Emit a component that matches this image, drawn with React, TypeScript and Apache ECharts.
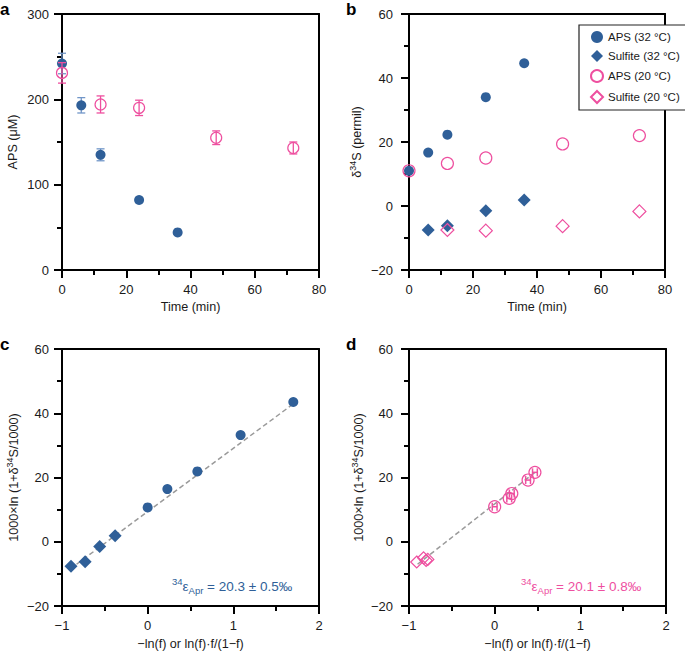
import React, { useEffect, useRef } from 'react';
import * as echarts from 'echarts';

const BLUE = '#2f5f98';
const BLUE_ERR = '#7196c8';
const PINK = '#ee4f9f';
const FONT = 'Liberation Sans';

// Panel a: APS concentration vs time
const timeApsHot = [0, 6, 12, 24, 36];
const apsHot = [242, 193, 135, 82, 44];
const apsHotErr = [12, 9, 7, 3, 2];
const timeApsCold = [0, 12, 24, 48, 72];
const apsCold = [231, 194, 190, 155, 143];
const apsColdErr = [12, 10, 9, 8, 7];

// Panel b: d34S vs time
const d34ApsHot = [11, 16.7, 22.3, 34, 44.6];
const timeSulHot = [6, 12, 24, 36];
const d34SulHot = [-7.5, -6.2, -1.5, 1.9];
const d34ApsCold = [11, 13.3, 15, 19.4, 22];
const timeSulCold = [12, 24, 48, 72];
const d34SulCold = [-7.5, -7.7, -6.3, -1.7];

// Panel c: 32 °C Rayleigh plot
const fApsHot = [0, 0.23, 0.58, 1.085, 1.7];
const lnApsHot = [10.7, 16.4, 21.9, 33.2, 43.5];
const fApsHotErr = [0.025, 0.025, 0.025, 0.025, 0.025];
const fSulHot = [-0.895, -0.73, -0.56, -0.38];
const lnSulHot = [-7.6, -6.2, -1.5, 1.9];
const fitHotX = [-0.83, 1.75];
const fitHotY = [-7.0, 43.9];

// Panel d: 20 °C Rayleigh plot
const fApsCold = [0, 0.17, 0.2, 0.39, 0.47];
const lnApsCold = [10.9, 13.5, 15, 19.2, 21.6];
const fApsColdErr = [0.028, 0.028, 0.028, 0.028, 0.028];
const fSulCold = [-0.91, -0.83, -0.8, -0.78];
const lnSulCold = [-6.3, -5.0, -5.8, -5.5];
const fitColdX = [-0.9, 0.47];
const fitColdY = [-7.0, 21.6];

const legendNames = ['APS (32 °C)', 'Sulfite (32 °C)', 'APS (20 °C)', 'Sulfite (20 °C)'];

const HOLLOW = 'rgba(255,255,255,0)';
const TEXT = '#1a1a1a';
const FS_TICK = 13;
const FS_NAME = 12.6;
const FS_NOTE = 13.5;

const fmt = (v: number) => (v < 0 ? '\u2212' + Math.abs(v) : String(v));

const richName = {
  n: { fontSize: FS_NAME, fontFamily: FONT, color: TEXT, fontWeight: 'normal' },
  sup: { fontSize: 9, fontFamily: FONT, color: TEXT, fontWeight: 'normal', padding: [0, 0, 8, 0] },
};

function axis(
  gridIndex: number,
  min: number,
  max: number,
  interval: number,
  name: string,
  nameGap: number,
  labelMargin: number
) {
  return {
    type: 'value',
    gridIndex,
    min,
    max,
    interval,
    name,
    nameLocation: 'middle',
    nameGap,
    nameTextStyle: { fontSize: FS_NAME, fontFamily: FONT, color: TEXT, fontWeight: 'normal', rich: richName },
    axisLine: { show: true, onZero: false, lineStyle: { color: '#000', width: 2 } },
    axisTick: { show: true, length: 8, lineStyle: { color: '#000', width: 2 } },
    minorTick: { show: true, splitNumber: 2, length: 5, lineStyle: { color: '#000', width: 2 } },
    splitLine: { show: false },
    minorSplitLine: { show: false },
    axisLabel: { fontSize: FS_TICK, fontFamily: FONT, color: TEXT, margin: labelMargin, formatter: fmt },
  };
}

// Frame edges (top / right) drawn as bare axis lines
function frame(gridIndex: number, min: number, max: number, position: string) {
  return {
    type: 'value',
    gridIndex,
    min,
    max,
    position,
    axisLine: { show: true, onZero: false, lineStyle: { color: '#000', width: 2 } },
    axisTick: { show: false },
    minorTick: { show: false },
    axisLabel: { show: false },
    splitLine: { show: false },
  };
}

const vErr = (color: string, cap: number, width: number) => (params: any, api: any) => {
  const x = api.value(0);
  const a = api.coord([x, api.value(2)]);
  const b = api.coord([x, api.value(3)]);
  const style = { stroke: color, lineWidth: width, fill: 'none' };
  return {
    type: 'group',
    children: [
      { type: 'line', shape: { x1: a[0], y1: a[1], x2: b[0], y2: b[1] }, style },
      { type: 'line', shape: { x1: a[0] - cap, y1: a[1], x2: a[0] + cap, y2: a[1] }, style },
      { type: 'line', shape: { x1: b[0] - cap, y1: b[1], x2: b[0] + cap, y2: b[1] }, style },
    ],
  };
};

const hErr = (color: string, cap: number, width: number) => (params: any, api: any) => {
  const y = api.value(1);
  const a = api.coord([api.value(2), y]);
  const b = api.coord([api.value(3), y]);
  const style = { stroke: color, lineWidth: width, fill: 'none' };
  return {
    type: 'group',
    children: [
      { type: 'line', shape: { x1: a[0], y1: a[1], x2: b[0], y2: b[1] }, style },
      { type: 'line', shape: { x1: a[0], y1: a[1] - cap, x2: a[0], y2: a[1] + cap }, style },
      { type: 'line', shape: { x1: b[0], y1: b[1] - cap, x2: b[0], y2: b[1] + cap }, style },
    ],
  };
};

const zip = (xs: number[], ys: number[]) => xs.map((x, i) => [x, ys[i]]);

function scatter(name: string, idx: number, data: number[][], symbol: string, size: number, filled: boolean, color: string, z = 3) {
  return {
    type: 'scatter',
    name,
    xAxisIndex: idx,
    yAxisIndex: idx,
    data,
    symbol,
    symbolSize: size,
    clip: false,
    z,
    itemStyle: filled
      ? { color, borderWidth: 0, opacity: 1 }
      : { color: HOLLOW, borderColor: color, borderWidth: 1.2, opacity: 1 },
    emphasis: { disabled: true },
  };
}

function annotation(x: number, y: number, value: string, color: string) {
  return {
    type: 'text',
    x,
    y,
    style: {
      text: '{sup|34}{t|\u03b5}{sub|Apr}{t| = ' + value + '}',
      fill: color,
      verticalAlign: 'middle',
      rich: {
        t: { fontSize: FS_NOTE, fontFamily: FONT, fill: color },
        sup: { fontSize: 9.5, fontFamily: FONT, fill: color, padding: [0, 0, 9, 0] },
        sub: { fontSize: 9.5, fontFamily: FONT, fill: color, padding: [8, 0, 0, 0] },
      },
    },
  };
}

function letter(x: number, y: number, t: string) {
  return {
    type: 'text',
    x,
    y,
    style: { text: t, fill: '#000', fontSize: 17, fontWeight: 'bold', fontFamily: FONT, verticalAlign: 'middle' },
  };
}

export default function App() {
  const ref = useRef<HTMLDivElement>(null);
  useEffect(() => {
    if (!ref.current) return;
    const chart = echarts.init(ref.current, undefined, { renderer: 'svg' });
    const yName = '{n|1000×ln (1+δ}{sup|34}{n|S/1000)}';
    const xName = '\u2212ln(f) or ln(f)·f/(1\u2212f)';
    const option: any = {
      animation: false,
      textStyle: { fontFamily: FONT },
      grid: [
        { left: 62, top: 14, width: 257, height: 256 },
        { left: 409, top: 14, width: 256, height: 256 },
        { left: 62, top: 349, width: 257, height: 257 },
        { left: 409, top: 349, width: 257, height: 257 },
      ],
      xAxis: [
        axis(0, 0, 80, 20, 'Time (min)', 30, 13),
        axis(1, 0, 80, 20, 'Time (min)', 30, 13),
        axis(2, -1, 2, 1, xName, 31, 13),
        axis(3, -1, 2, 1, xName, 31, 13),
        frame(0, 0, 80, 'top'),
        frame(1, 0, 80, 'top'),
        frame(2, -1, 2, 'top'),
        frame(3, -1, 2, 'top'),
      ],
      yAxis: [
        axis(0, 0, 300, 100, 'APS (μM)', 43, 13),
        axis(1, -20, 60, 20, '{n|δ}{sup|34}{n|S (permil)}', 44, 16),
        axis(2, -20, 60, 20, yName, 40, 13),
        axis(3, -20, 60, 20, yName, 42, 16),
        frame(0, 0, 300, 'right'),
        frame(1, -20, 60, 'right'),
        frame(2, -20, 60, 'right'),
        frame(3, -20, 60, 'right'),
      ],
      legend: {
        data: legendNames,
        orient: 'vertical',
        left: 579,
        top: 25,
        padding: [6, 8, 6, 11],
        itemGap: 7,
        itemWidth: 12,
        itemHeight: 12,
        backgroundColor: '#fff',
        borderColor: '#222',
        borderWidth: 1.2,
        borderRadius: 0,
        selectedMode: false,
        textStyle: { fontSize: 11.5, fontFamily: FONT, color: TEXT },
      },
      graphic: [
        letter(0, 9, 'a'),
        letter(346, 9, 'b'),
        letter(0, 344, 'c'),
        letter(346, 344, 'd'),
        annotation(172, 586, '20.3 ± 0.5‰', BLUE),
        annotation(521, 586, '20.1 ± 0.8‰', PINK),
      ],
      series: [
        // Panel a
        {
          type: 'custom',
          xAxisIndex: 0,
          yAxisIndex: 0,
          z: 2,
          renderItem: vErr(BLUE_ERR, 4, 1.3),
          encode: { x: 0, y: 1 },
          data: timeApsHot.map((t, i) => [t, apsHot[i], apsHot[i] - apsHotErr[i], apsHot[i] + apsHotErr[i]]),
        },
        scatter('a-hot', 0, zip(timeApsHot, apsHot), 'circle', 10, true, BLUE),
        {
          type: 'custom',
          xAxisIndex: 0,
          yAxisIndex: 0,
          z: 4,
          renderItem: vErr(PINK, 4, 1.3),
          encode: { x: 0, y: 1 },
          data: timeApsCold.map((t, i) => [t, apsCold[i], apsCold[i] - apsColdErr[i], apsCold[i] + apsColdErr[i]]),
        },
        scatter('a-cold', 0, zip(timeApsCold, apsCold), 'circle', 11, false, PINK, 5),
        // Panel b
        scatter(legendNames[0], 1, zip(timeApsHot, d34ApsHot), 'circle', 10, true, BLUE),
        scatter(legendNames[1], 1, zip(timeSulHot, d34SulHot), 'diamond', 13, true, BLUE),
        scatter(legendNames[2], 1, zip(timeApsCold, d34ApsCold), 'circle', 12, false, PINK, 5),
        scatter(legendNames[3], 1, zip(timeSulCold, d34SulCold), 'diamond', 13, false, PINK, 5),
        // Panel c
        {
          type: 'line',
          xAxisIndex: 2,
          yAxisIndex: 2,
          data: zip(fitHotX, fitHotY),
          symbol: 'none',
          z: 1,
          lineStyle: { color: '#9a9a9a', width: 1.5, type: [5, 3] },
        },
        {
          type: 'custom',
          xAxisIndex: 2,
          yAxisIndex: 2,
          z: 2,
          renderItem: hErr(BLUE_ERR, 4, 1.3),
          encode: { x: 0, y: 1 },
          data: fApsHot.map((f, i) => [f, lnApsHot[i], f - fApsHotErr[i], f + fApsHotErr[i]]),
        },
        scatter('c-aps', 2, zip(fApsHot, lnApsHot), 'circle', 10, true, BLUE),
        scatter('c-sul', 2, zip(fSulHot, lnSulHot), 'diamond', 13, true, BLUE),
        // Panel d
        {
          type: 'line',
          xAxisIndex: 3,
          yAxisIndex: 3,
          data: zip(fitColdX, fitColdY),
          symbol: 'none',
          z: 1,
          lineStyle: { color: '#9a9a9a', width: 1.5, type: [5, 3] },
        },
        scatter('d-aps', 3, zip(fApsCold, lnApsCold), 'circle', 12, false, PINK),
        {
          type: 'custom',
          xAxisIndex: 3,
          yAxisIndex: 3,
          z: 4,
          renderItem: hErr(PINK, 4, 1.5),
          encode: { x: 0, y: 1 },
          data: fApsCold.map((f, i) => [f, lnApsCold[i], f - fApsColdErr[i], f + fApsColdErr[i]]),
        },
        scatter('d-sul', 3, zip(fSulCold, lnSulCold), 'diamond', 12, false, PINK),
      ],
    };
    chart.setOption(option);
    return () => chart.dispose();
  }, []);
  return (
    <div
      ref={ref}
      style={{ position: 'fixed', left: 0, top: 0, width: 685, height: 653, background: '#fff' }}
    />
  );
}
